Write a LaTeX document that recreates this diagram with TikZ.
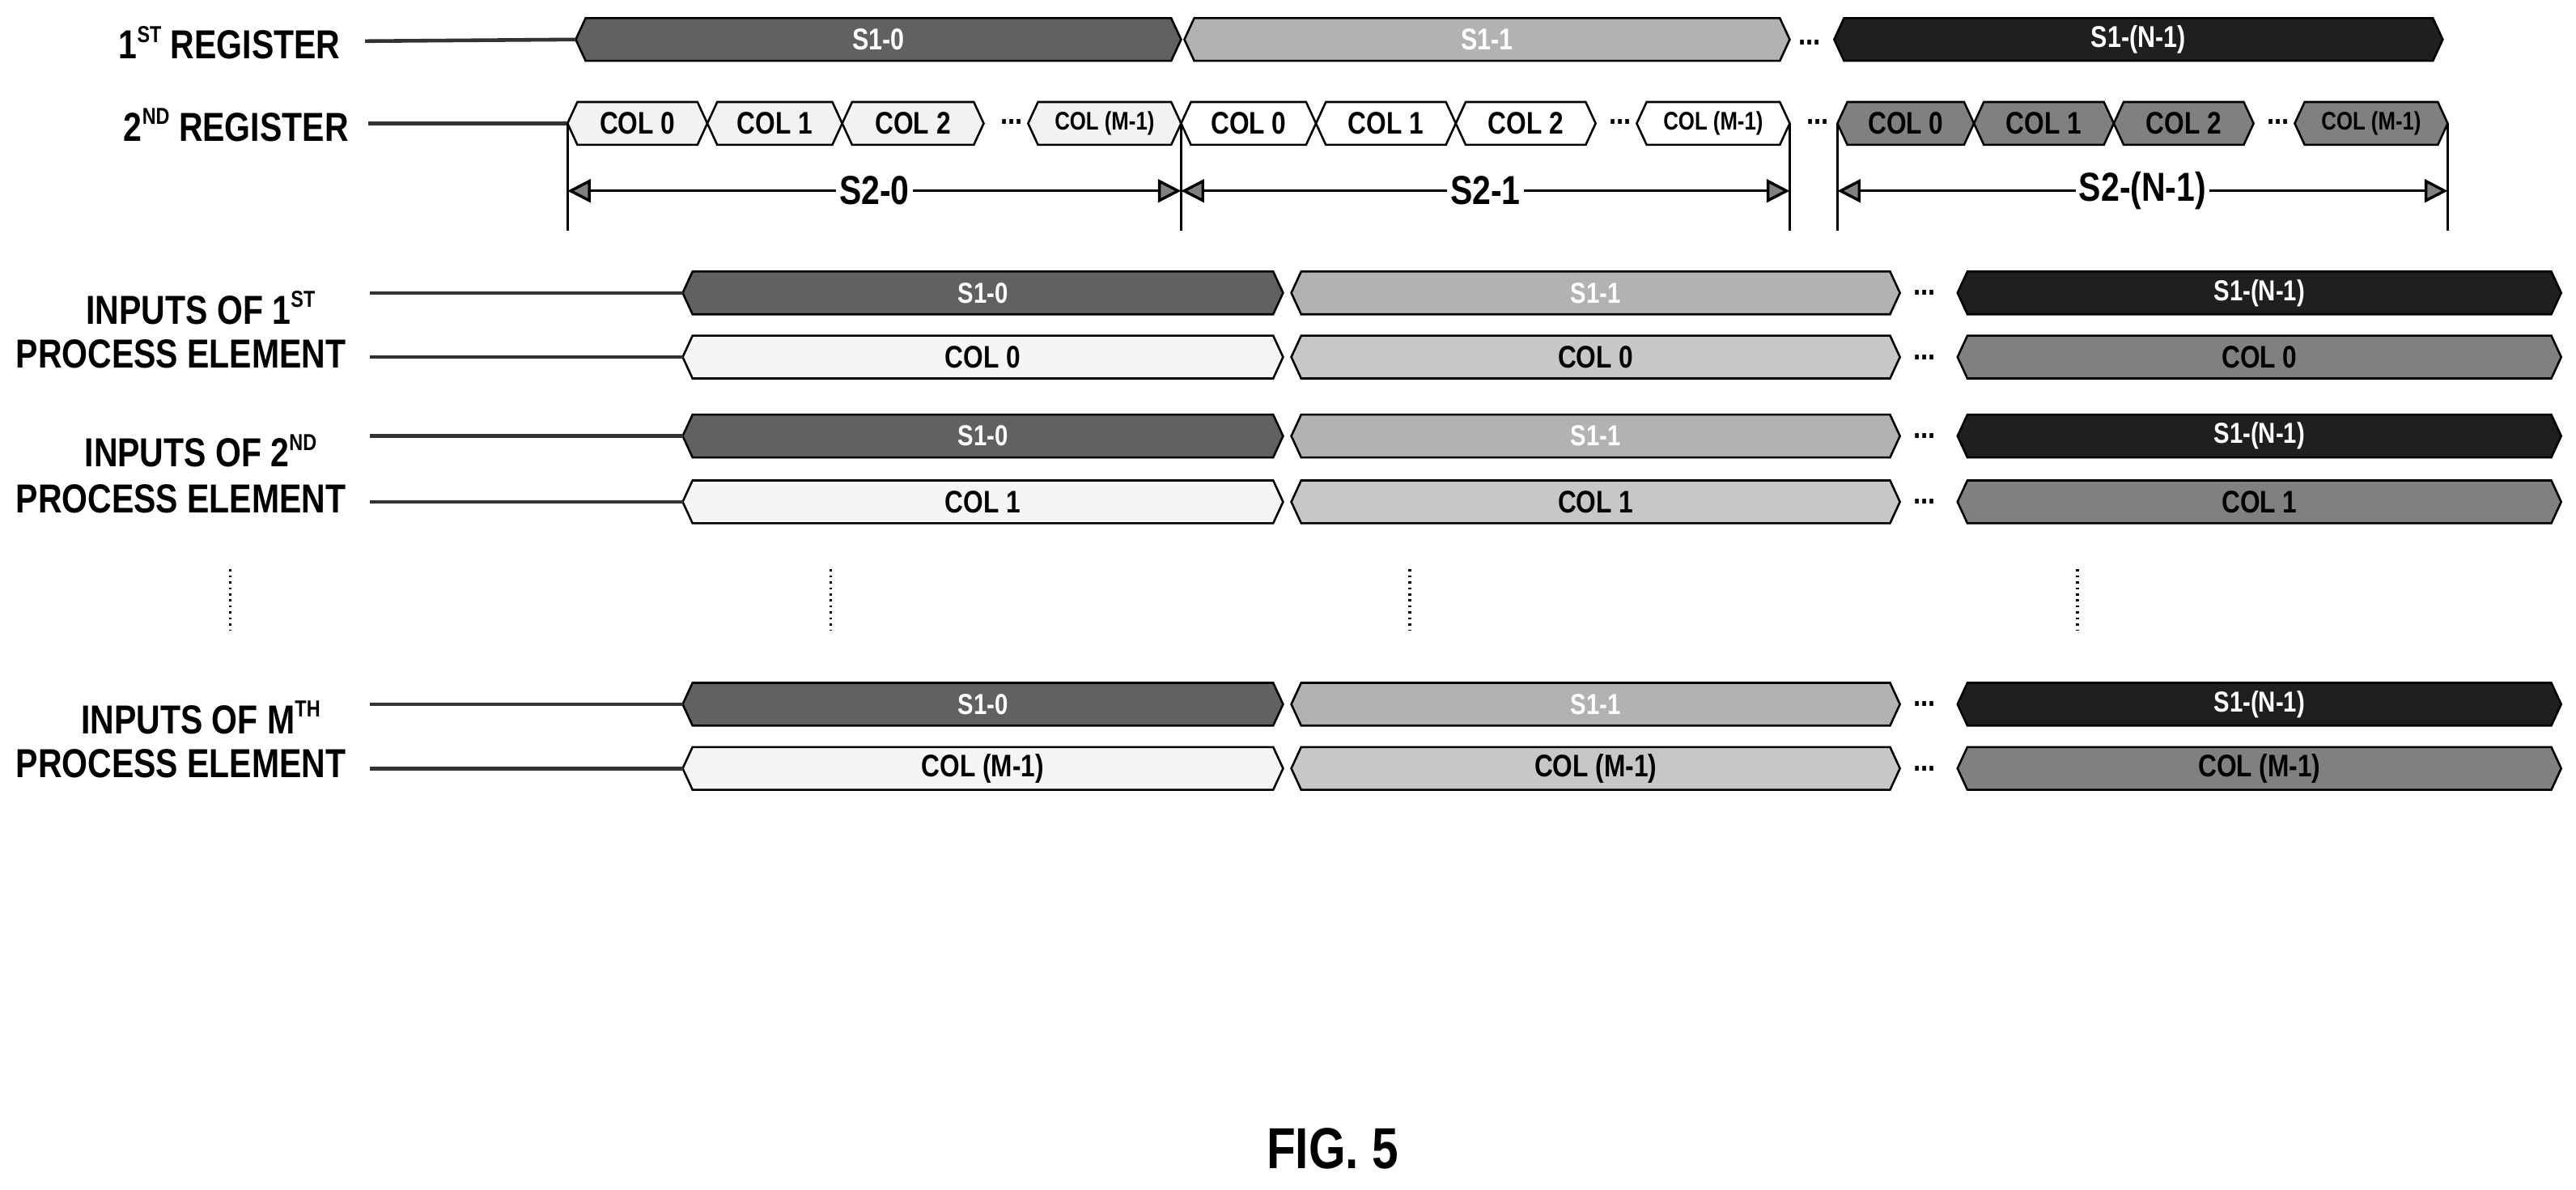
\documentclass[tikz,border=0pt]{standalone}
\usepackage{fontspec}
\setmainfont{Liberation Sans}[FakeStretch=0.82]
\usetikzlibrary{calc,arrows.meta}
\newcommand\sups[1]{\raisebox{0.78ex}{\fontsize{20}{20}\selectfont #1}}
\newcommand\hexb[8]{%
  \draw[hexline,fill=#5] (#2,#4) -- (#2+6,#4-13) -- (#3-6,#4-13) -- (#3,#4) -- (#3-6,#4+13) -- (#2+6,#4+13) -- cycle;
  \coordinate (#1-l) at (#2,#4);
  \node[boxtext,text=#7,font=\bfseries\fontsize{#8}{#8}\selectfont] (#1) at ({(#2+#3)/2},#4) {#6};}
\tikzset{
  hexline/.style={draw=black,line width=1.8pt,line join=miter},
  boxtext/.style={inner sep=0pt,anchor=center},
  lbl/.style={font=\bfseries\fontsize{35}{35}\selectfont,inner sep=0pt,align=center},
  lead/.style={line width=3.2pt,draw=black!80},
  vline/.style={line width=2pt},
  dim/.style={line width=2.4pt,{Triangle[width=20pt,length=20pt,fill=gray]}-{Triangle[width=20pt,length=20pt,fill=gray]}},
  dotsl/.style={font=\bfseries\fontsize{28}{28}\selectfont,inner sep=0pt},
  vdots/.style={line width=2.6pt,dash pattern=on 1.8pt off 3.4pt},
}
\colorlet{sA}{black!62}
\colorlet{sB}{black!30}
\colorlet{sC}{black!88}
\colorlet{cw}{black!5}
\colorlet{cg}{black!50}
\colorlet{pa}{black!4}
\colorlet{pb}{black!22}
\colorlet{pc}{black!50}
\newcommand\perow[7]{%
  \node[lbl] (#1u) at (122,#2) {#6};
  \node[lbl] (#1v) at (110,#3) {PROCESS ELEMENT};
  \hexb{#1s0}{415}{780}{#4}{sA}{S1-0}{white}{25}
  \hexb{#1s1}{785}{1155}{#4}{sB}{S1-1}{white}{25}
  \node[dotsl] (#1sd) at (1170,#4) {...};
  \hexb{#1s2}{1190}{1557}{#4}{sC}{S1-(N-1)}{white}{25}
  \hexb{#1c0}{415}{780}{#5}{pa}{#7}{black}{27}
  \hexb{#1c1}{785}{1155}{#5}{pb}{#7}{black}{27}
  \node[dotsl] (#1cd) at (1170,#5) {...};
  \hexb{#1c2}{1190}{1557}{#5}{pc}{#7}{black}{27}
  \coordinate (#1ls) at (225,#4); \coordinate (#1lc) at (225,#5);
  \draw[lead] (#1ls) -- (#1s0-l);
  \draw[lead] (#1lc) -- (#1c0-l);}
\begin{document}
\begin{tikzpicture}[x=0.05cm,y=-0.05cm]
\useasboundingbox (0,0) rectangle (1566,723);
\node[lbl,anchor=east] (r1) at (207,26) {1\sups{ST} REGISTER};
\hexb{r1a}{350}{718}{24}{sA}{S1-0}{white}{26}
\hexb{r1b}{720}{1088}{24}{sB}{S1-1}{white}{26}
\node[dotsl] (r1d) at (1100,26) {...};
\hexb{r1c}{1115}{1485}{24}{sC}{S1-(N-1)}{white}{26}
\draw[lead] ($(r1.east)+(15,-1)$) -- (r1a-l);
\node[lbl,anchor=east] (r2) at (212,76) {2\sups{ND} REGISTER};
\hexb{c10}{345}{430}{75}{cw}{COL 0}{black}{27}
\hexb{c11}{430}{512}{75}{cw}{COL 1}{black}{27}
\hexb{c12}{512}{598}{75}{cw}{COL 2}{black}{27}
\node[dotsl] (c1d) at (615,74) {...};
\hexb{c1m}{625}{718}{75}{cw}{COL (M-1)}{black}{22}
\hexb{c20}{718}{800}{75}{white}{COL 0}{black}{27}
\hexb{c21}{800}{885}{75}{white}{COL 1}{black}{27}
\hexb{c22}{885}{970}{75}{white}{COL 2}{black}{27}
\node[dotsl] (c2d) at (985,74) {...};
\hexb{c2m}{995}{1088}{75}{white}{COL (M-1)}{black}{22}
\node[dotsl] (c3dd) at (1105,74) {...};
\hexb{c30}{1117}{1200}{75}{cg}{COL 0}{black}{27}
\hexb{c31}{1200}{1285}{75}{cg}{COL 1}{black}{27}
\hexb{c32}{1285}{1370}{75}{cg}{COL 2}{black}{27}
\node[dotsl] (c3d) at (1385,74) {...};
\hexb{c3m}{1395}{1488}{75}{cg}{COL (M-1)}{black}{22}
\draw[lead] ($(r2.east)+(12,-1)$) -- (c10-l);
\coordinate (v1t) at (345,75); \coordinate (v1b) at (345,140);
\coordinate (v2t) at (718,75); \coordinate (v2b) at (718,140);
\coordinate (v3t) at (1088,75); \coordinate (v3b) at (1088,140);
\coordinate (v4t) at (1117,75); \coordinate (v4b) at (1117,140);
\coordinate (v5t) at (1488,75); \coordinate (v5b) at (1488,140);
\foreach \v in {v1,v2,v3,v4,v5} \draw[vline] (\v t) -- (\v b);
\coordinate (a1) at (345,116); \coordinate (a2) at (718,116);
\coordinate (a3) at (1088,116); \coordinate (a4) at (1117,116); \coordinate (a5) at (1488,116);
\draw[dim] (a1) -- node[lbl,fill=white,inner xsep=3pt] (s20) {S2-0} (a2);
\draw[dim] (a2) -- node[lbl,fill=white,inner xsep=3pt] (s21) {S2-1} (a3);
\draw[dim] (a4) -- node[lbl,fill=white,inner xsep=3pt] (s2n) {S2-(N-1)} (a5);
\perow{p}{187}{215}{178}{217}{INPUTS OF 1\sups{ST}}{COL 0}
\perow{q}{274}{303}{265}{305}{INPUTS OF 2\sups{ND}}{COL 1}
\perow{m}{436}{464}{428}{467}{INPUTS OF M\sups{TH}}{COL (M-1)}
\foreach \x/\n in {140/d0,505/d1,857/d2,1263/d3}{
  \coordinate (\n t) at (\x,346); \coordinate (\n b) at (\x,383);
  \draw[vdots] (\n t) -- (\n b);}
\node[font=\bfseries\fontsize{50}{50}\selectfont] (fig) at (810,698) {FIG. 5};
\end{tikzpicture}
\end{document}
